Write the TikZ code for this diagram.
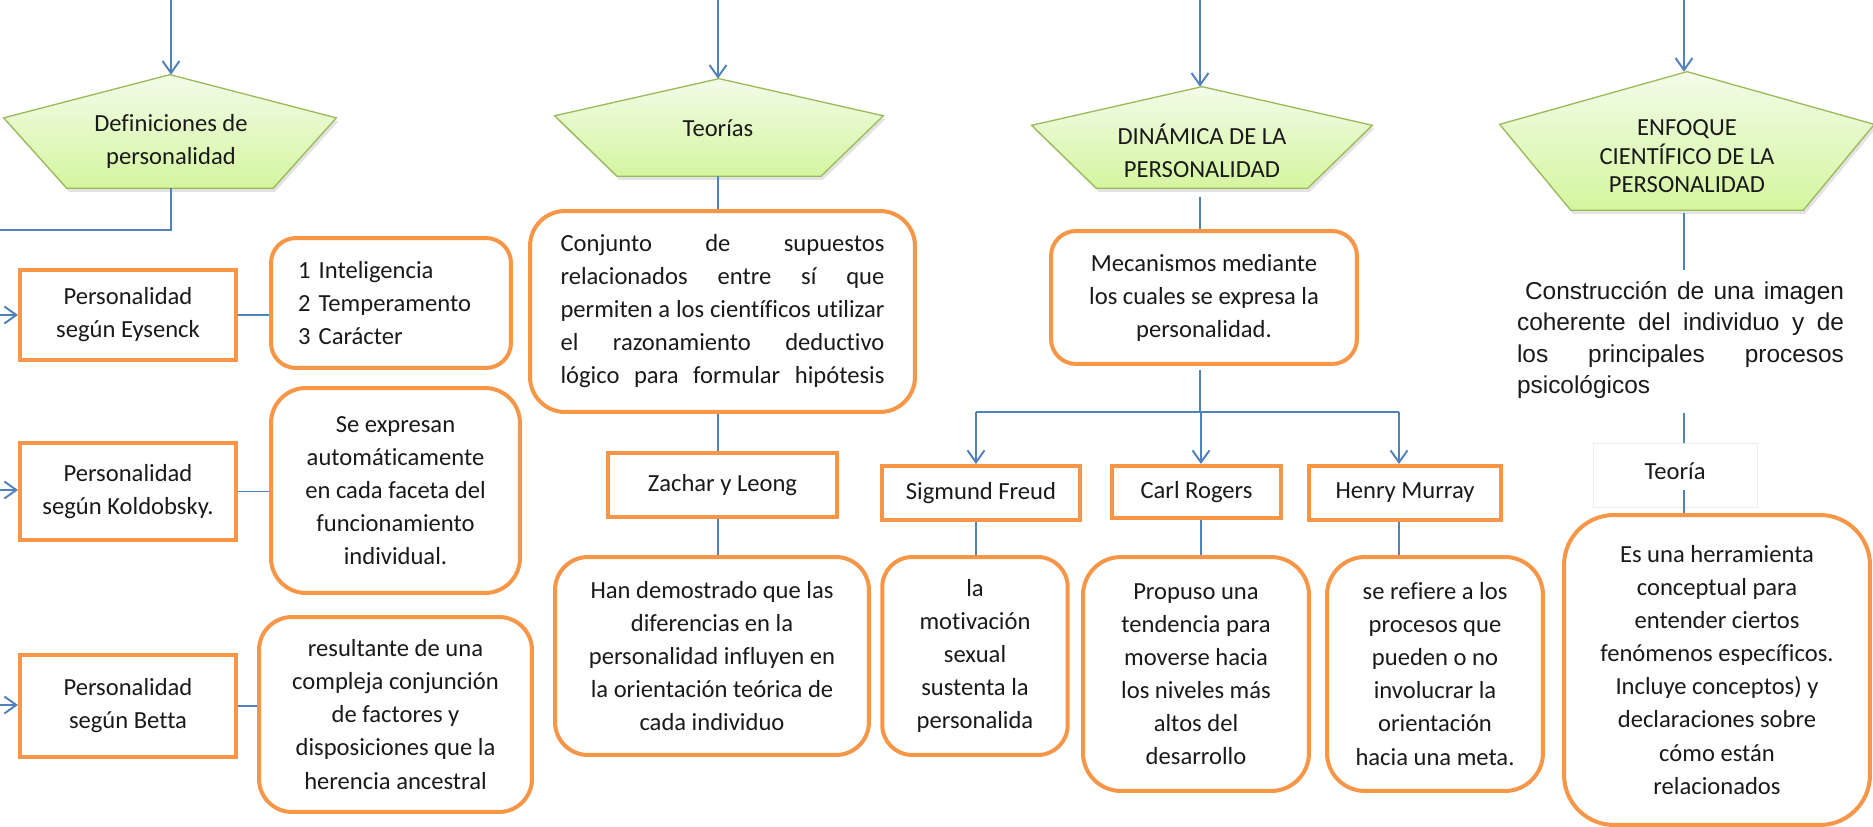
\documentclass[tikz,border=0pt]{standalone}
\usepackage{fontspec}
\setmainfont{Carlito}[Ligatures=NoCommon]
\newfontfamily\arialf{Liberation Sans}
\usetikzlibrary{arrows.meta,calc,backgrounds,shadows}
\definecolor{org}{HTML}{F79646}
\definecolor{blu}{HTML}{4F81BD}
\definecolor{grn}{HTML}{9BBB59}
\definecolor{gtop}{HTML}{F2FCE9}
\definecolor{gbot}{HTML}{D5F59F}
\definecolor{txt}{HTML}{1A1A1A}
\tikzset{
  base/.style={inner sep=0pt, text=txt, font=\fontsize{14pt}{18.8pt}\selectfont, align=center},
  sqbox/.style={base, draw=org, line width=0.08cm, fill=white},
  rbox/.style={base, draw=org, line width=0.08cm, fill=white, rounded corners=#1},
  pentbb/.style={inner sep=0pt, minimum width=#1},
  pent/.style={draw=grn, line width=0.75pt, top color=gtop, bottom color=gbot,
    drop shadow={opacity=0.22, shadow xshift=0.04cm, shadow yshift=-0.07cm}},
  ln/.style={draw=blu, line width=1.1pt},
  arr/.style={ln, -{Straight Barb[length=0.24cm, width=0.34cm, line width=1.1pt]}},
  faint/.style={base, draw=black!7, line width=0.5pt},
}
\newcommand\pentshape[1]{%
  \draw[pent] (#1.north) -- ($(#1.north west)!0.38!(#1.south west)$)
    -- ($(#1.south west)!0.19!(#1.south east)$)
    -- ($(#1.south east)!0.19!(#1.south west)$)
    -- ($(#1.north east)!0.38!(#1.south east)$) -- cycle;}
\begin{document}
\begin{tikzpicture}[x=0.02cm, y=-0.02cm]
\useasboundingbox (0,0) rectangle (1873,827);

% pentagon bounding nodes
\node[pentbb=6.64cm, minimum height=2.26cm] (p1) at (170,131.5) {};
\node[pentbb=6.56cm, minimum height=1.94cm] (p2) at (719,127.5) {};
\node[pentbb=6.8cm, minimum height=2.02cm] (p3) at (1202,137.5) {};
\node[pentbb=7.48cm, minimum height=2.76cm] (p4) at (1687,141) {};
\begin{scope}[on background layer]
  \fill[white] (0,0) rectangle (1873,827);
  \pentshape{p1}\pentshape{p2}\pentshape{p3}\pentshape{p4}
\end{scope}
\node[base] (p1t) at (171,141.5) {Definiciones de\\personalidad};
\node[base] (p2t) at (718,128) {Teorías};
\node[base] (p3t) at (1202,151) {DINÁMICA DE LA\\PERSONALIDAD};
\node[base, font=\fontsize{14pt}{16.2pt}\selectfont] (p4t) at (1687,156.5) {ENFOQUE\\CIENTÍFICO DE LA\\PERSONALIDAD};

% column 1
\node[sqbox, minimum width=4.32cm, minimum height=1.8cm] (eys) at (128,315) {Personalidad\\según Eysenck};
\node[sqbox, minimum width=4.32cm, minimum height=1.94cm] (kol) at (128,491.5) {Personalidad\\según Koldobsky.};
\node[sqbox, minimum width=4.32cm, minimum height=2.04cm] (bet) at (128,706) {Personalidad\\según Betta};
\node[rbox=0.5cm, text width=3.72cm, align=left, inner xsep=0.54cm, minimum height=2.6cm] (lst) at (391,303) {1 Inteligencia\\2 Temperamento\\3 Carácter};
\node[rbox=0.7cm, minimum width=4.98cm, minimum height=4.1cm] (sex) at (395.5,490.5) {Se expresan\\automáticamente\\en cada faceta del\\funcionamiento\\individual.};
\node[rbox=0.66cm, minimum width=5.46cm, minimum height=3.9cm] (res) at (395.5,714.5) {resultante de una\\compleja conjunción\\de factores y\\disposiciones que la\\herencia ancestral};

% column 2
\node[rbox=0.7cm, minimum width=7.7cm, minimum height=4.02cm, align=left] (con) at (722.5,311.5) {%
\makebox[6.48cm][s]{Conjunto de supuestos}\\
\makebox[6.48cm][s]{relacionados entre sí que}\\
\makebox[6.48cm][s]{permiten a los científicos utilizar}\\
\makebox[6.48cm][s]{el razonamiento deductivo}\\
\makebox[6.48cm][s]{lógico para formular hipótesis}};
\node[sqbox, minimum width=4.58cm, minimum height=1.28cm] (zach) at (722.5,485) {Zachar y Leong};
\node[rbox=0.66cm, minimum width=6.28cm, minimum height=3.96cm] (han) at (712,656) {Han demostrado que las\\diferencias en la\\personalidad influyen en\\la orientación teórica de\\cada individuo};

% column 3
\node[rbox=0.5cm, minimum width=6.12cm, minimum height=2.66cm] (mec) at (1204,297.5) {Mecanismos mediante\\los cuales se expresa la\\personalidad.};
\node[sqbox, minimum width=3.95cm, minimum height=1.08cm] (freud) at (981,493) {Sigmund Freud};
\node[sqbox, minimum width=3.38cm, minimum height=1.04cm] (rog) at (1196.5,492) {Carl Rogers};
\node[sqbox, minimum width=3.84cm, minimum height=1.08cm] (mur) at (1405,493) {Henry Murray};
\node[rbox=0.6cm, minimum width=3.71cm, minimum height=3.96cm] (mot) at (975,656) {la\\motivación\\sexual\\sustenta la\\personalida};
\node[rbox=0.76cm, minimum width=4.52cm, minimum height=4.68cm] (pro) at (1196,674) {Propuso una\\tendencia para\\moverse hacia\\los niveles más\\altos del\\desarrollo};
\node[rbox=0.76cm, minimum width=4.32cm, minimum height=4.68cm] (ref) at (1435,674) {se refiere a los\\procesos que\\pueden o no\\involucrar la\\orientación\\hacia una meta.};

% column 4
\node[base, align=left, font=\arialf\fontsize{13.9pt}{17.8pt}\selectfont] (con2) at (1680.5,340) {%
\makebox[6.54cm][s]{\hspace{0.16cm}Construcción de una imagen}\\
\makebox[6.54cm][s]{coherente del individuo y de}\\
\makebox[6.54cm][s]{los principales procesos}\\
psicológicos};
\node[faint, minimum width=3.28cm, minimum height=1.28cm] (teoria) at (1675,475) {\raisebox{0.14cm}{Teoría}};
\node[rbox=1.0cm, minimum width=6.12cm, minimum height=6.2cm] (her) at (1717,670) {Es una herramienta\\conceptual para\\entender ciertos\\fenómenos específicos.\\Incluye conceptos) y\\declaraciones sobre\\cómo están\\relacionados};

% connectors: top arrows
\coordinate (t1) at (171,0);
\coordinate (t2) at (718,0);
\coordinate (t3) at (1200,0);
\coordinate (t4) at (1684,0);
\draw[arr] (t1) -- (t1 |- p1.north);
\draw[arr] (t2) -- (t2 |- p2.north);
\draw[arr] (t3) -- (t3 |- p3.north);
\draw[arr] (t4) -- (t4 |- p4.north);

% column 1 connectors
\coordinate (l1) at (0,230);
\draw[ln] (p1.south -| t1) |- (l1);
\coordinate (e1) at (0,315);
\coordinate (e2) at (0,490);
\coordinate (e3) at (0,705);
\draw[arr] (e1) -- (e1 -| eys.west);
\draw[arr] (e2) -- (e2 -| kol.west);
\draw[arr] (e3) -- (e3 -| bet.west);
\draw[ln] (eys.east) -- (eys.east -| lst.west);
\draw[ln] (kol.east) -- (kol.east -| sex.west);
\draw[ln] (bet.east) -- (bet.east -| res.west);

% column 2 connectors
\draw[ln] (p2.south -| t2) -- (con.north -| t2);
\draw[ln] (con.south -| t2) -- (zach.north -| t2);
\draw[ln] (zach.south -| t2) -- (han.north -| t2);

% column 3 connectors
\coordinate (hub) at (1200,412);
\coordinate (xf) at (976,412);
\coordinate (xr) at (1201,412);
\coordinate (xm) at (1399,412);
\draw[ln] ([yshift=-0.18cm]p3.south -| t3) -- (mec.north -| t3);
\draw[ln] ([yshift=-0.08cm]mec.south -| t3) -- (hub);
\draw[ln] (xf) -- (xm);
\draw[arr] (xf) -- (xf |- freud.north);
\draw[arr] (xr) -- (xr |- rog.north);
\draw[arr] (xm) -- (xm |- mur.north);
\draw[ln] (freud.south -| xf) -- (mot.north -| xf);
\draw[ln] (rog.south -| xr) -- (pro.north -| xr);
\draw[ln] (mur.south -| xm) -- (ref.north -| xm);

% column 4 connectors
\coordinate (c4a) at (1684,270);
\coordinate (c4b) at (1684,413);
\coordinate (c4c) at (1684,490);
\draw[ln] ([yshift=-0.06cm]p4.south -| t4) -- (c4a);
\draw[ln] (c4b) -- (teoria.north -| c4b);
\draw[ln] (c4c) -- (her.north -| c4c);
\end{tikzpicture}
\end{document}
